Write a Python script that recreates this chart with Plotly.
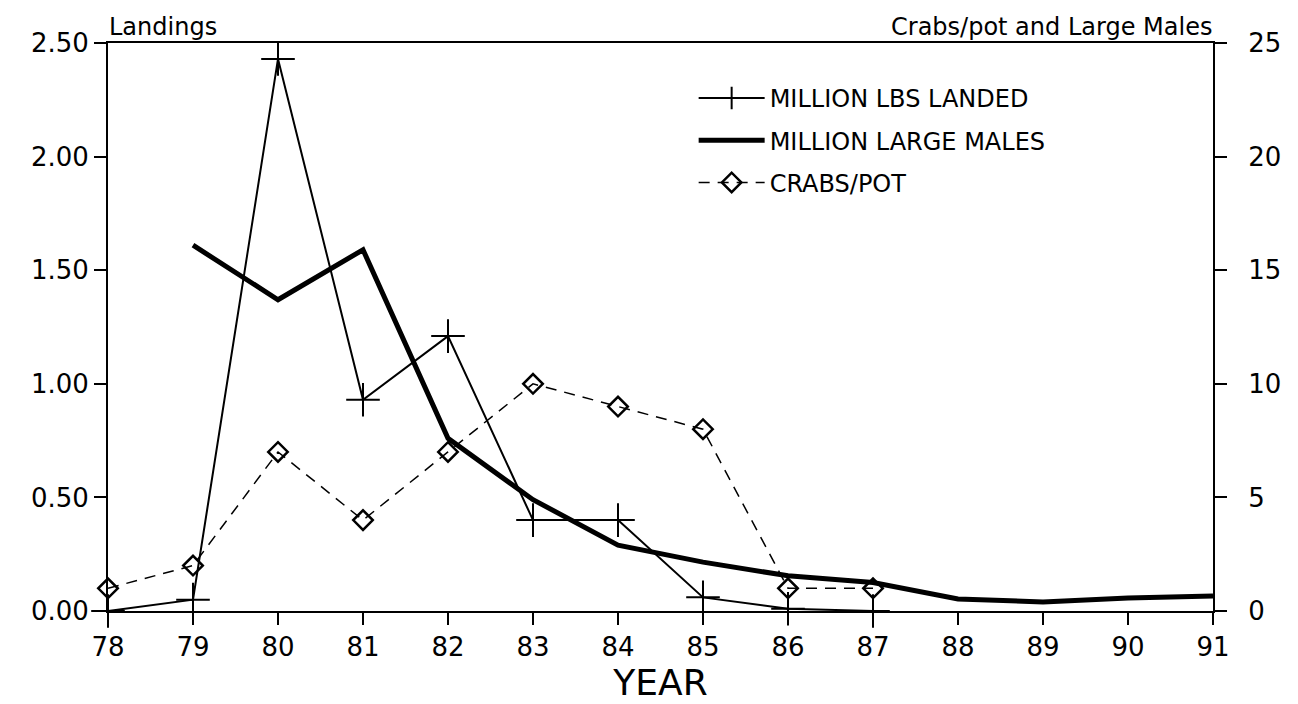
import plotly.graph_objects as go

years = [78, 79, 80, 81, 82, 83, 84, 85, 86, 87, 88, 89, 90, 91]

landing_years = [78, 79, 80, 81, 82, 83, 84, 85, 86, 87]
million_lbs_landed = [0.00, 0.05, 2.43, 0.93, 1.21, 0.40, 0.40, 0.06, 0.01, 0.00]

male_years = [79, 80, 81, 82, 83, 84, 85, 86, 87, 88, 89, 90, 91]
million_large_males = [16.1, 13.7, 15.9, 7.6, 4.9, 2.9, 2.15, 1.55, 1.25, 0.53, 0.4, 0.57, 0.66]

crab_years = [78, 79, 80, 81, 82, 83, 84, 85, 86, 87]
crabs_per_pot = [1.0, 2.0, 7.0, 4.0, 7.0, 10.0, 9.0, 8.0, 1.0, 1.0]

left_ticks = [0, 0.5, 1.0, 1.5, 2.0, 2.5]
right_ticks = [0, 5, 10, 15, 20, 25]

FONT = "DejaVu Sans"

fig = go.Figure()

fig.add_trace(go.Scatter(
    x=landing_years, y=million_lbs_landed, name="MILLION LBS LANDED",
    mode="lines+markers", yaxis="y", legendgroup="a",
    line=dict(color="black", width=2),
    marker=dict(symbol="cross-thin", size=24, color="black",
                line=dict(color="black", width=2)),
    cliponaxis=False,
))
fig.add_trace(go.Scatter(
    x=male_years, y=million_large_males, name="MILLION LARGE MALES",
    mode="lines", yaxis="y2", legendgroup="b",
    line=dict(color="black", width=5),
    cliponaxis=False,
))
fig.add_trace(go.Scatter(
    x=crab_years, y=crabs_per_pot, name="CRABS/POT",
    mode="lines+markers", yaxis="y2", legendgroup="c",
    line=dict(color="black", width=1.5, dash="11px,8px"),
    marker=dict(symbol="diamond-open", size=15, color="black",
                line=dict(color="black", width=2.5)),
    cliponaxis=False,
))

axis_common = dict(
    showgrid=False, zeroline=False, showline=True, linecolor="black", linewidth=2,
    ticks="outside", ticklen=12, tickwidth=2, tickcolor="black",
    tickfont=dict(family=FONT, size=26, color="black"),
)

fig.update_layout(
    width=1298, height=704,
    paper_bgcolor="white", plot_bgcolor="white",
    margin=dict(l=100, r=93, t=35, b=101),
    showlegend=True,
    legend=dict(
        x=0.530, y=0.942, xanchor="left", yanchor="top",
        bgcolor="rgba(0,0,0,0)", borderwidth=0,
        font=dict(family=FONT, size=24, color="black"),
        traceorder="grouped", tracegroupgap=8, itemwidth=66,
    ),
    xaxis=dict(
        range=[78, 91], tickvals=years, ticktext=[str(y) for y in years],
        mirror=True, ticklabelstandoff=0,
        title=dict(text="YEAR", font=dict(family=FONT, size=36, color="black"), standoff=2),
        **axis_common,
    ),
    yaxis=dict(
        range=[0, 2.5], tickvals=left_ticks, tickformat=".2f",
        **axis_common,
    ),
    yaxis2=dict(
        range=[0, 25], tickvals=right_ticks, overlaying="y", side="right",
        ticklabelstandoff=16,
        **axis_common,
    ),
    annotations=[
        dict(text="Landings", xref="paper", yref="paper", x=0, y=1.0,
             xanchor="left", yanchor="bottom", showarrow=False, yshift=1,
             borderpad=0,
             font=dict(family=FONT, size=24, color="black")),
        dict(text="Crabs/pot and Large Males", xref="paper", yref="paper", x=1.0, y=1.0,
             xanchor="right", yanchor="bottom", showarrow=False, yshift=1,
             borderpad=0,
             font=dict(family=FONT, size=24, color="black")),
    ],
)

fig.write_html("out.html")
